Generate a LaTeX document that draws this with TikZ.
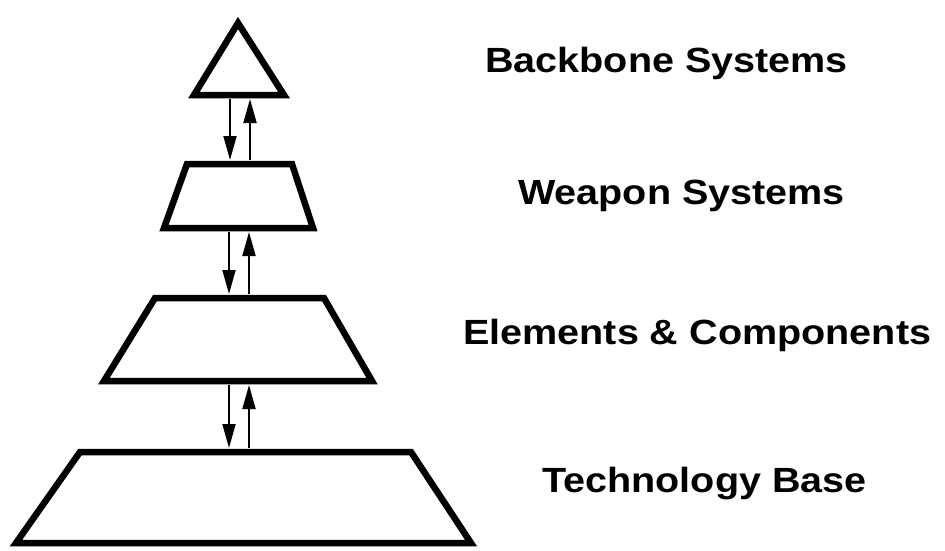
\documentclass[tikz,border=0pt]{standalone}
\usepackage{fontspec}
\setmainfont{Liberation Sans}
\usetikzlibrary{arrows.meta}
\newcommand{\wide}[1]{\scalebox{1.13}[1]{#1}}
\begin{document}
\begin{tikzpicture}[x=1pt,y=-1pt,
  level/.style={line width=6.5pt, line join=miter, draw=black},
  flow/.style={line width=1.8pt, -{Triangle[length=24pt,width=13pt]}},
  label/.style={anchor=base west, inner sep=0pt, font=\bfseries\fontsize{35}{42}\selectfont}]
\useasboundingbox (0,0) rectangle (945,550);
% shapes
\draw[level] (238,23) -- (284,95) -- (194,95) -- cycle;
\draw[level] (187,164) -- (292,164) -- (313,228) -- (164,228) -- cycle;
\draw[level] (155,298) -- (324,298) -- (372,381) -- (104,381) -- cycle;
\draw[level] (80,452) -- (411,452) -- (471,543) -- (16,543) -- cycle;
% edge coordinates
\coordinate (bbbot) at (240,99);
\coordinate (wstop) at (240,160);
\coordinate (wsbot) at (240,232);
\coordinate (ectop) at (240,294);
\coordinate (ecbot) at (240,385);
\coordinate (tbtop) at (240,448);
% arrows
\draw[flow] ([xshift=-10pt]bbbot) -- ([xshift=-10pt]wstop);
\draw[flow] ([xshift=10pt]wstop) -- ([xshift=10pt]bbbot);
\draw[flow] ([xshift=-11pt]wsbot) -- ([xshift=-11pt]ectop);
\draw[flow] ([xshift=9pt]ectop) -- ([xshift=9pt]wsbot);
\draw[flow] ([xshift=-11pt]ecbot) -- ([xshift=-11pt]tbtop);
\draw[flow] ([xshift=9pt]tbtop) -- ([xshift=9pt]ecbot);
% labels
\node[label] (bb) at (485,72) {\wide{Backbone Systems}};
\node[label] (ws) at (518,204) {\wide{Weapon Systems}};
\node[label] (ec) at (463,344) {\wide{Elements \& Components}};
\node[label] (tb) at (542,492) {\wide{Technology Base}};
\end{tikzpicture}
\end{document}
